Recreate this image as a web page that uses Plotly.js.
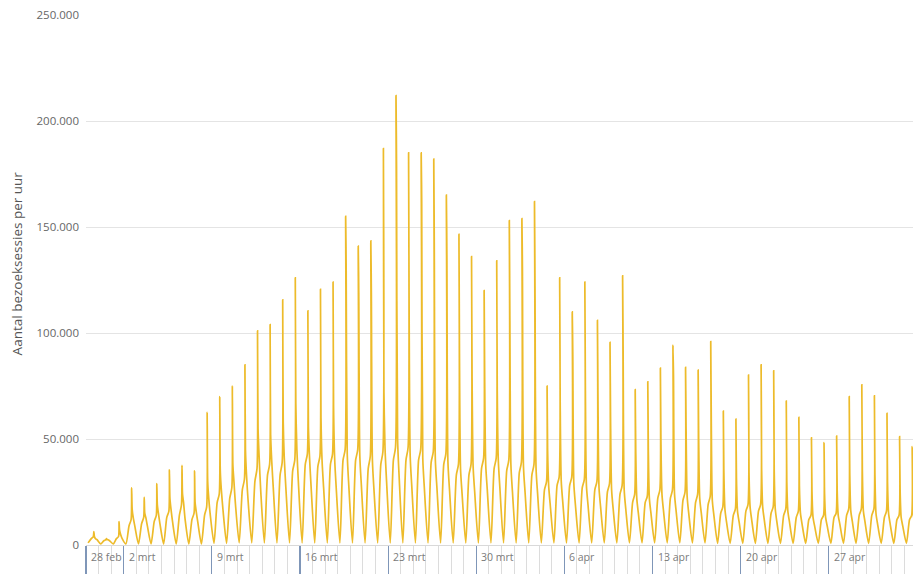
<!DOCTYPE html>
<html>
<head>
<meta charset="utf-8">
<script src="https://cdn.plot.ly/plotly-3.0.1.min.js"></script>
<style>html,body{margin:0;padding:0;background:#fff}#chart{width:913px;height:574px}</style>
</head>
<body>
<div id="chart"></div>
<script>
// One entry per day (28 feb 2020 .. 3 mei 2020)
const days = [
 "2020-02-28","2020-02-29","2020-03-01","2020-03-02","2020-03-03","2020-03-04","2020-03-05","2020-03-06","2020-03-07","2020-03-08",
 "2020-03-09","2020-03-10","2020-03-11","2020-03-12","2020-03-13","2020-03-14","2020-03-15","2020-03-16","2020-03-17","2020-03-18",
 "2020-03-19","2020-03-20","2020-03-21","2020-03-22","2020-03-23","2020-03-24","2020-03-25","2020-03-26","2020-03-27","2020-03-28",
 "2020-03-29","2020-03-30","2020-03-31","2020-04-01","2020-04-02","2020-04-03","2020-04-04","2020-04-05","2020-04-06","2020-04-07",
 "2020-04-08","2020-04-09","2020-04-10","2020-04-11","2020-04-12","2020-04-13","2020-04-14","2020-04-15","2020-04-16","2020-04-17",
 "2020-04-18","2020-04-19","2020-04-20","2020-04-21","2020-04-22","2020-04-23","2020-04-24","2020-04-25","2020-04-26","2020-04-27",
 "2020-04-28","2020-04-29","2020-04-30","2020-05-01","2020-05-02","2020-05-03"];

// Sessions per hour, read at fixed hours of each day
const nightLow = [1000,500,500,500,500,500,500,500,500,500, 800,800,1000,1000,1000,1000,1000,1000,1000,1000,
 1000,1000,1000,1000,1000,1000,1000,1000,1000,1000, 1000,1000,1000,1000,1000,1000,1000,1000,1000,1000,
 1000,1000,1000,1000,1000,1000,1000,1000,1000,1000, 800,800,800,800,800,800,800,800,800,800, 800,800,800,800,800,800]; // 04:00
const morning = [3000,2000,3000,9000,10000,11000,13000,14000,12000,14000, 20000,22000,26000,30000,33000,33000,35000,38000,37000,38000,
 40000,40000,36000,38000,40000,40000,40000,39000,38000,33000, 33000,36000,36000,35000,34000,33000,26000,28000,28000,27000,
 26000,25000,24000,20000,20000,22000,22000,21000,20000,19000, 15000,14000,16000,16000,15000,14000,13000,12000,12000,13000,
 14000,14000,14000,13000,12000,12000]; // 10:00
const noon = [4000,2500,4000,12000,13000,14000,16000,19000,15000,18000, 24000,27000,31000,36000,38000,39000,40000,43000,42000,43000,
 45000,45000,42000,44000,46000,46000,45000,44000,43000,38000, 38000,41000,41000,40000,39000,38000,30000,32000,32000,31000,
 30000,29000,28000,24000,23000,26000,26000,25000,24000,23000, 18000,17000,19000,19000,18000,17000,16000,14000,14000,15000,
 17000,17000,17000,16000,14000,14000]; // 14:00
const peak = [6300,3000,11000,27000,22500,29000,35400,37600,35000,62600, 70000,75000,85000,101000,104000,115600,126000,110400,120600,124000,
 155000,141000,143500,187000,212000,185000,185000,182000,165000,146500, 136000,120000,134000,153000,154000,162000,75000,126000,110000,124000,
 106000,95600,127000,73300,77000,83500,94300,83800,82500,96000, 63200,59400,80200,85000,82200,67900,60200,50600,48300,51400,
 70000,75500,70400,62100,51100,46400]; // 15:00
const second = [4000,2500,7000,17000,15000,19000,22000,24000,20000,30000, 35000,38000,45000,55000,52000,58000,67000,56000,60000,65000,
 130000,119000,119000,72000,179000,110000,161000,138000,136000,90000, 80000,80000,73000,110000,130000,121000,45000,67000,90000,75000,
 70000,60000,90000,45000,45000,50000,80000,55000,50000,60000, 35000,32000,34000,36000,35000,30000,28000,25000,24000,26000,
 34000,36000,34000,30000,26000,24000]; // 16:00
const afternoon = [3000,2500,5000,13000,13000,15000,17000,20000,16000,22000, 26000,30000,33000,42000,40000,41000,45000,42000,40000,41000,
 43000,42000,40000,46000,50000,42000,41000,40000,39000,36000, 37000,38000,40000,38000,37000,36000,28000,30000,29000,28000,
 27000,26000,26000,22000,22000,24000,24000,23000,22000,21000, 17000,16000,18000,18000,17000,16000,15000,13000,13000,14000,
 16000,16000,15000,15000,13000,13000]; // 18:00
const evening = [2500,2000,3000,9000,9000,10000,11000,12000,11000,14000, 17000,19000,21000,26000,27000,27000,29000,28000,27000,27000,
 28000,28000,26000,30000,32000,28000,27000,27000,26000,24000, 25000,26000,27000,25000,25000,24000,19000,20000,19000,19000,
 18000,17000,17000,15000,15000,16000,16000,15000,15000,14000, 11000,11000,12000,12000,11000,11000,10000,9000,9000,10000,
 11000,11000,10000,10000,9000,9000]; // 21:00

const hours = ["04:00","10:00","14:00","15:00","16:00","18:00","21:00"];
const series = [nightLow, morning, noon, peak, second, afternoon, evening];

// x-axis week labels
const weekTicks = ["2020-02-28","2020-03-02","2020-03-09","2020-03-16","2020-03-23","2020-03-30","2020-04-06","2020-04-13","2020-04-20","2020-04-27"];
const weekLabels = ["28 feb","2 mrt","9 mrt","16 mrt","23 mrt","30 mrt","6 apr","13 apr","20 apr","27 apr"];

const yTicks = [0,50000,100000,150000,200000,250000];

const xs = [], ys = [];
days.forEach((d, i) => {
  hours.forEach((h, k) => { xs.push(d + " " + h); ys.push(series[k][i]); });
});

const trace = {
  x: xs, y: ys, type: "scatter", mode: "lines",
  line: {color: "#EDBB2A", width: 1.7, shape: "spline", smoothing: 0.7},
  hoverinfo: "skip"
};

const annotations = weekTicks.map((t, i) => ({
  x: t, xref: "x", xanchor: "left", xshift: 3,
  y: -0.0226, yref: "paper", yanchor: "middle",
  text: weekLabels[i], showarrow: false,
  font: {family: "Open Sans, sans-serif", size: 10.5, color: "#7a7a7a"}
}));
annotations.push({
  text: "Aantal bezoeksessies per uur", textangle: -90,
  xref: "paper", x: -0.083, xanchor: "center",
  yref: "paper", y: 0.532, yanchor: "middle",
  showarrow: false,
  font: {family: "Open Sans, sans-serif", size: 13.5, color: "#555"}
});

const layout = {
  width: 913, height: 574,
  margin: {l: 86, r: 0, t: 15, b: 29},
  paper_bgcolor: "#fff", plot_bgcolor: "#fff",
  separators: ",.",
  showlegend: false,
  font: {family: "Open Sans, sans-serif", color: "#666"},
  xaxis: {
    type: "date",
    range: ["2020-02-28 00:00", "2020-05-03 16:34"],
    showgrid: false, zeroline: false,
    showline: true, linecolor: "#d9d9d9", linewidth: 1,
    tickmode: "array", tickvals: weekTicks, ticktext: weekLabels,
    showticklabels: false,
    ticks: "outside", ticklen: 29, tickwidth: 1.2, tickcolor: "#7f96b8",
    minor: {ticks: "outside", ticklen: 29, tickwidth: 1, tickcolor: "#dcdcdc",
            dtick: 86400000, tick0: "2020-02-28", showgrid: false}
  },
  yaxis: {
    range: [0, 250000],
    tickmode: "array", tickvals: yTicks, tickformat: ",d",
    showgrid: true, gridcolor: "#e4e4e4", gridwidth: 1,
    zeroline: false, showline: false, ticks: "",
    ticklabelstandoff: 6,
    tickfont: {family: "Open Sans, sans-serif", size: 11.5, color: "#666"}
  },
  annotations: annotations
};

Plotly.newPlot("chart", [trace], layout, {displayModeBar: false, staticPlot: true});
</script>
</body>
</html>
